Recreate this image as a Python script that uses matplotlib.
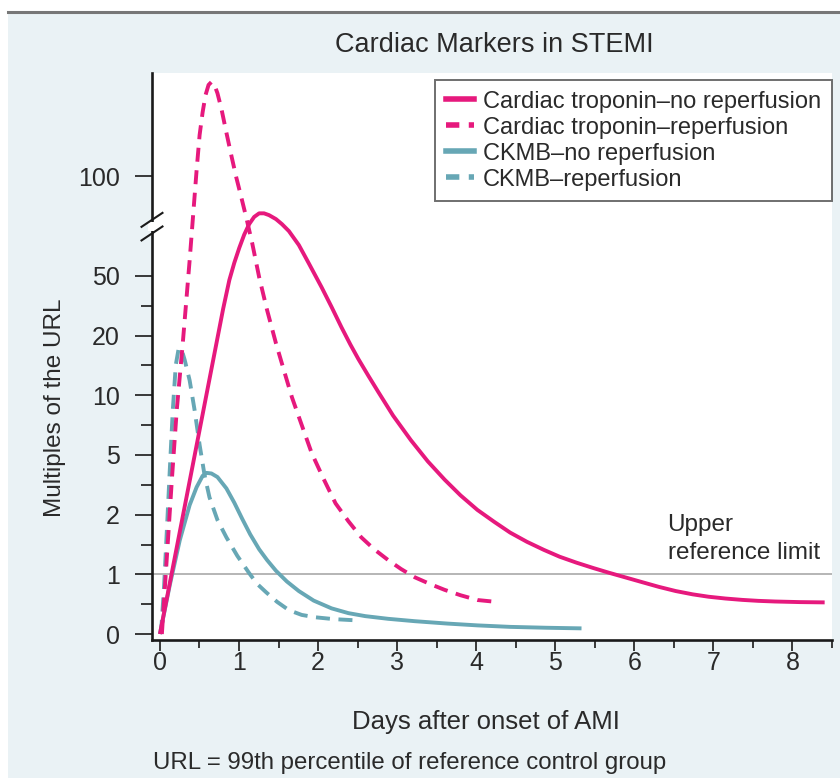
import numpy as np
import matplotlib
matplotlib.use("Agg")
import matplotlib.pyplot as plt
from matplotlib.patches import Rectangle
from matplotlib.lines import Line2D

plt.rcParams['font.family'] = ['Liberation Sans', 'DejaVu Sans']

# ---------------- data ----------------
title = "Cardiac Markers in STEMI"
xlabel = "Days after onset of AMI"
ylabel = "Multiples of the URL"
footnote = "URL = 99th percentile of reference control group"

labels = ["Cardiac troponin\u2013no reperfusion", "Cardiac troponin\u2013reperfusion",
          "CKMB\u2013no reperfusion", "CKMB\u2013reperfusion"]

trop_noreperf_days = [0, 0.80, 0.878, 0.941, 1.004, 1.066, 1.129, 1.192, 1.255, 1.317, 1.380,
                      1.468, 1.543, 1.631, 1.757, 1.882, 2.045, 2.171, 2.296, 2.409, 2.509,
                      2.635, 2.760, 2.949, 3.174, 3.388, 3.601, 3.802, 4.015, 4.228, 4.429,
                      4.642, 4.856, 5.056, 5.270, 5.483, 5.684, 5.897, 6.110, 6.311, 6.524,
                      6.738, 6.939, 7.152, 7.365, 7.566, 7.779, 8.093, 8.407]
trop_noreperf_vals = [0, 33.5, 47.9, 56.6, 64.1, 70.7, 76.0, 79.6, 81.4, 81.4, 80.5,
                      78.5, 76.0, 72.5, 65.5, 56.4, 44.3, 34.4, 24.2, 18.5, 16.1,
                      13.3, 10.6, 8.3, 6.24, 4.68, 3.76, 2.97, 2.24, 1.88, 1.70,
                      1.545, 1.41, 1.295, 1.195, 1.105, 1.025, 0.945, 0.865, 0.79, 0.72,
                      0.665, 0.625, 0.595, 0.572, 0.556, 0.545, 0.535, 0.53]

trop_reperf_days = [0.025, 0.088, 0.151, 0.213, 0.289, 0.376, 0.464, 0.502, 0.540, 0.577,
                    0.615, 0.652, 0.690, 0.728, 0.778, 0.841, 0.903, 0.966, 1.029, 1.092,
                    1.167, 1.255, 1.355, 1.468, 1.568, 1.669, 1.794, 1.920, 2.070, 2.221,
                    2.384, 2.547, 2.710, 2.886, 3.049, 3.225, 3.413, 3.601, 3.802, 4.015,
                    4.241]
trop_reperf_vals = [0, 1.29, 3.74, 8.75, 18.7, 57.8, 105, 134.5, 153.5, 168,
                    176.5, 179, 176.5, 169.5, 156.5, 136.5, 117.5, 99.4, 89.5, 79.3,
                    66.5, 49.4, 32.9, 18.7, 14.2, 9.85, 7.5, 5.15, 3.8, 2.57,
                    1.89, 1.62, 1.42, 1.24, 1.09, 0.95, 0.84, 0.74, 0.65, 0.57,
                    0.54]

ckmb_noreperf_days = [0, 0.125, 0.251, 0.376, 0.464, 0.540, 0.590, 0.652, 0.728, 0.841,
                      0.941, 1.041, 1.142, 1.255, 1.355, 1.468, 1.606, 1.757, 1.945, 2.171,
                      2.384, 2.597, 2.886, 3.225, 3.639, 4.015, 4.429, 4.893, 5.332]
ckmb_noreperf_vals = [0, 0.82, 1.57, 2.48, 3.38, 3.95, 4.1, 4.07, 3.89, 3.32,
                      2.6, 1.93, 1.67, 1.42, 1.24, 1.06, 0.88, 0.72, 0.56, 0.43,
                      0.35, 0.30, 0.255, 0.215, 0.175, 0.145, 0.12, 0.105, 0.095]

ckmb_reperf_days = [0.013, 0.050, 0.088, 0.125, 0.163, 0.201, 0.238, 0.276, 0.314, 0.376,
                    0.439, 0.502, 0.565, 0.627, 0.728, 0.841, 0.979, 1.129, 1.230, 1.343,
                    1.481, 1.631, 1.794, 1.970, 2.196, 2.472]
ckmb_reperf_vals = [0, 0.74, 1.74, 4.25, 8.75, 15.1, 17.9, 17.6, 15.9, 12.5,
                    8.75, 5.85, 3.98, 2.87, 1.91, 1.62, 1.31, 1.02, 0.84, 0.70,
                    0.54, 0.40, 0.32, 0.28, 0.25, 0.23]

x_ticks = [0, 1, 2, 3, 4, 5, 6, 7, 8]
y_ticks = [0, 1, 2, 5, 10, 20, 50, 100]
y_minor = [0.5, 1.5, 3.5, 7.5, 15, 35]
url_value = 1

# axis mapping (broken, quasi-log axis)
scale_vals = [-1, 0, 1, 2, 5, 10, 20, 50, 100, 200]
scale_pos = [-1, 0, 1, 2, 3, 4, 5, 6, 7.67, 9.67]

PINK = '#e6197d'
TEAL = '#67a7b5'
TXT = '#2a2a2a'
BG = '#eaf2f5'

def fwd(v):
    return np.interp(v, scale_vals, scale_pos)

def inv(p):
    return np.interp(p, scale_pos, scale_vals)

fig = plt.figure(figsize=(8.4, 7.78), dpi=100)
fig.patch.set_facecolor('white')
fig.patches.append(Rectangle((8/840, 0), 1, (778-13)/778, transform=fig.transFigure,
                             facecolor=BG, edgecolor='none', zorder=-10))
fig.add_artist(Line2D([8/840, 1], [(778-11.5)/778]*2, transform=fig.transFigure,
                      color='#777777', lw=2.2))

ax = fig.add_axes([152/840, (778-640)/778, 680/840, 567/778])
ax.set_facecolor('white')
ax.set_yscale('function', functions=(fwd, inv))
ax.set_xlim(-0.1, 8.43)
ax.set_ylim(inv(-0.1), inv(9.40))

dash = (0, (3.6, 2.2))
lw = 2.8
ax.axhline(url_value, color='#b0b0b0', lw=1.3, zorder=1)
ax.plot(trop_noreperf_days, trop_noreperf_vals, color=PINK, lw=lw, solid_capstyle='butt',
        solid_joinstyle='round', zorder=3)
ax.plot(trop_reperf_days, trop_reperf_vals, color=PINK, lw=lw, ls=dash, zorder=3)
ax.plot(ckmb_noreperf_days, ckmb_noreperf_vals, color=TEAL, lw=lw, solid_capstyle='butt',
        solid_joinstyle='round', zorder=2)
ax.plot(ckmb_reperf_days, ckmb_reperf_vals, color=TEAL, lw=lw, ls=dash, zorder=2)

for s in ['top', 'right']:
    ax.spines[s].set_visible(False)
for s in ['left', 'bottom']:
    ax.spines[s].set_linewidth(1.9)
    ax.spines[s].set_color('#1a1a1a')

ax.set_yticks(y_ticks)
ax.set_yticklabels([str(t) for t in y_ticks])
ax.set_yticks(y_minor, minor=True)
ax.set_xticks(x_ticks)
ax.set_xticks([t + 0.5 for t in x_ticks], minor=True)
ax.tick_params(axis='y', which='major', length=12, width=1.3, pad=11, labelsize=18,
               colors=TXT)
ax.tick_params(axis='y', which='minor', length=8, width=1.3, color=TXT)
ax.tick_params(axis='x', which='major', length=8, width=1.3, pad=0, labelsize=18,
               colors=TXT)
ax.tick_params(axis='x', which='minor', length=6, width=1.3, color=TXT)

# axis break marks
ax.add_patch(Rectangle((-0.006, 0.722), 0.012, 0.016, transform=ax.transAxes,
                       facecolor='white', edgecolor='none', clip_on=False, zorder=5))
for yc in (0.741, 0.717):
    ax.plot([-0.0154, 0.0154], [yc - 0.0123, yc + 0.0123], transform=ax.transAxes,
            color='#1a1a1a', lw=1.5, clip_on=False, zorder=6)

# reference-limit annotation
ax.text(6.42, inv((634-525)/59.7), "Upper", fontsize=17.5, color=TXT, va='center', ha='left')
ax.text(6.42, inv((634-553)/59.7), "reference limit", fontsize=17.5, color=TXT,
        va='center', ha='left')

handles = [Line2D([], [], color=PINK, lw=4),
           Line2D([], [], color=PINK, lw=4, ls=(0, (2.4, 1.7))),
           Line2D([], [], color=TEAL, lw=4),
           Line2D([], [], color=TEAL, lw=4, ls=(0, (2.4, 1.7)))]
leg = fig.legend(handles, labels, loc='upper right',
                 bbox_to_anchor=(832/840, (778-80)/778), bbox_transform=fig.transFigure,
                 fontsize=17, frameon=True, fancybox=False, handlelength=1.2,
                 handletextpad=0.38, labelspacing=0.17, borderpad=0.45, borderaxespad=0)
leg.get_frame().set_edgecolor('#4a4a4a')
leg.get_frame().set_linewidth(1.4)
for t in leg.get_texts():
    t.set_color(TXT)

fig.text(494/840, (778-45)/778, title, fontsize=19.5, color=TXT, ha='center', va='center')
fig.text(486/840, (778-722)/778, xlabel, fontsize=18.5, color=TXT, ha='center', va='center')
fig.text(55/840, (778-408)/778, ylabel, fontsize=17.5, color=TXT, ha='center', va='center',
         rotation=90)
fig.text(153/840, (778-763)/778, footnote, fontsize=17.3, color=TXT, ha='left', va='center')

fig.savefig("out.png", dpi=100, facecolor=fig.get_facecolor())
